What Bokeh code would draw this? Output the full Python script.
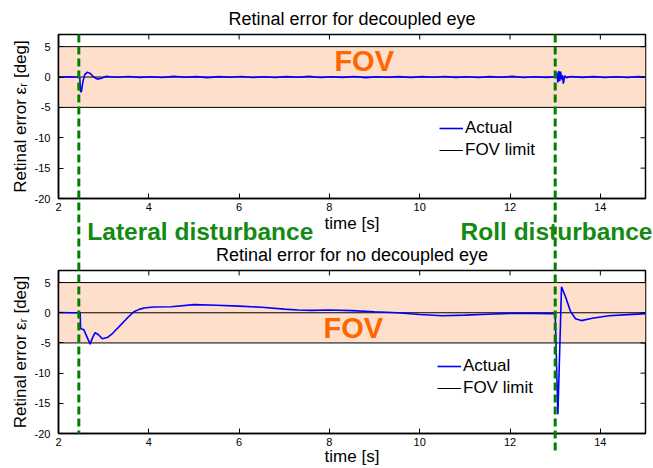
from bokeh.plotting import figure
from bokeh.models import (Range1d, FixedTicker, BoxAnnotation, Label,
                          Legend, LegendItem)
from bokeh.core.properties import value
from bokeh.layouts import column
from bokeh.embed import file_html
from bokeh.resources import INLINE

# ---------------- data ----------------
t_range = [2, 15]
err_range = [-20, 7]
x_ticks = [2, 4, 6, 8, 10, 12, 14]
x_tick_labels = ["2", "4", "6", "8", "10", "12", "14"]
y_ticks = [-20, -15, -10, -5, 0, 5]
y_tick_labels = ["-20", "-15", "-10", "-5", "0", "5"]
fov_limit = [-5, 5]
disturbance_times = [2.45, 13.0]
disturbance_labels = ["Lateral disturbance", "Roll disturbance"]
panel_titles = ["Retinal error for decoupled eye", "Retinal error for no decoupled eye"]
x_label = "time [s]"
y_label = "Retinal error \u03b5\u1d63 [deg]"
legend_labels = ["Actual", "FOV limit"]
fov_text = "FOV"

# decoupled eye
dec_t = [2.0, 2.25, 2.45, 2.47, 2.49, 2.51, 2.54, 2.58, 2.64, 2.70,
         2.78, 2.86, 2.95, 3.05, 3.15, 3.3,
         3.55, 3.8, 4.05, 4.3, 4.55, 4.8, 5.05, 5.3, 5.55, 5.8,
         6.05, 6.3, 6.55, 6.8, 7.05, 7.3, 7.55, 7.8, 8.05, 8.3,
         8.55, 8.8, 9.05, 9.3, 9.55, 9.8, 10.05, 10.3, 10.55, 10.8,
         11.05, 11.3, 11.55, 11.8, 12.05, 12.3, 12.55, 12.8, 12.98,
         13.03, 13.06, 13.08, 13.10, 13.12, 13.14, 13.16, 13.18, 13.21, 13.25,
         13.35, 13.6, 13.85, 14.1, 14.35, 14.6, 14.85, 15.0]
dec_err = [0.0, 0.05, -0.05, 0.0, -2.5, -2.3, -0.8, 0.4, 0.8, 0.6,
           0.0, -0.35, -0.2, 0.1, 0.05, -0.05,
           0.08, -0.06, 0.05, -0.08, 0.1, -0.05, 0.07, -0.1, 0.06, -0.04,
           0.09, -0.07, 0.05, -0.09, 0.06, -0.05, 0.1, -0.08, 0.04, -0.06,
           0.08, -0.1, 0.05, -0.04, 0.07, -0.09, 0.06, -0.05, 0.09, -0.06,
           0.05, -0.08, 0.07, -0.05, 0.1, -0.07, 0.05, -0.06, 0.03,
           0.8, -0.9, 1.0, -0.7, 0.9, -0.4, 0.3, -1.1, 0.2, -0.1,
           0.08, -0.06, 0.07, -0.08, 0.05, -0.07, 0.06, -0.03]

# no decoupled eye
nodec_t = [2.0, 2.3, 2.48, 2.49, 2.52, 2.56, 2.63, 2.70, 2.75, 2.81,
           2.88, 2.97, 3.08, 3.2, 3.38, 3.52, 3.67, 3.8, 3.9, 4.1,
           4.5, 5.0, 5.5, 6.0, 6.5, 7.0, 7.3, 7.6, 8.0, 8.5,
           9.0, 9.5, 10.0, 10.5, 11.0, 11.5, 12.0, 12.5, 12.95, 13.0,
           13.06, 13.14, 13.23, 13.34, 13.45, 13.58, 13.82, 14.19, 14.71, 15.0]
nodec_err = [0.05, 0.0, 0.0, -2.6, -2.7, -2.8, -4.0, -5.2, -4.2, -3.3,
             -3.6, -4.3, -4.1, -3.4, -2.0, -0.9, 0.16, 0.6, 0.8, 0.95,
             1.0, 1.35, 1.25, 1.1, 0.9, 0.6, 0.45, 0.4, 0.45, 0.35,
             0.16, 0.0, -0.28, -0.5, -0.4, -0.25, -0.1, -0.1, -0.15, -0.2,
             -16.8, 4.3, 2.6, 0.2, -1.0, -1.3, -0.9, -0.5, -0.27, -0.15]

# ---------------- style / layout ----------------
FONT = "Liberation Sans"
W = 653
TOTAL_H = 468
LEFT = 58
RIGHT = 8
FRAME_H = 164
FRAME_W = W - LEFT - RIGHT
TOP1, BOT1 = 34, 38        # borders of upper panel
TOP2, BOT2 = 33, 35        # borders of lower panel
GREEN_LINE = "#008000"
GREEN_TEXT = "#138a13"
ORANGE = "#FF6600"
PEACH = "#FDDFCB"
BLUE = "#0000FF"
PPU = FRAME_H / (err_range[1] - err_range[0])   # pixels per y unit
PPX = FRAME_W / (t_range[1] - t_range[0])       # pixels per x unit
TICK = 5


def style_axis(ax, ticks, labels):
    ax.ticker = FixedTicker(ticks=ticks)
    ax.major_label_overrides = dict(zip(ticks, labels))
    ax.axis_line_color = "black"
    ax.axis_line_width = 1.5
    ax.major_tick_in = TICK
    ax.major_tick_out = 0
    ax.minor_tick_in = 0
    ax.minor_tick_out = 0
    ax.major_tick_line_color = "black"
    ax.major_label_text_font = FONT
    ax.major_label_text_font_size = "11px"
    ax.major_label_text_color = "black"
    ax.axis_label_text_font = FONT
    ax.axis_label_text_font_size = "17px"
    ax.axis_label_text_font_style = "normal"
    ax.axis_label_text_color = "black"


def make_panel(idx, t, err, top_b, bot_b, legend_loc, fov_pos, xlab_standoff):
    height = top_b + FRAME_H + bot_b
    p = figure(width=W, height=height,
               x_range=Range1d(*t_range), y_range=Range1d(*err_range),
               output_backend="svg", toolbar_location=None,
               min_border_left=LEFT, min_border_right=RIGHT,
               min_border_top=top_b, min_border_bottom=bot_b,
               background_fill_color="white", border_fill_color="white",
               title=panel_titles[idx])
    p.title.text_font = FONT
    p.title.text_font_size = "18px"
    p.title.text_font_style = "normal"
    p.title.text_color = "black"
    p.title.text_line_height = 1.0
    p.title.align = "center"
    p.title.standoff = 12
    p.grid.visible = False
    p.outline_line_color = "black"
    p.outline_line_width = 1.5

    xa = p.below[0]
    ya = p.left[0]
    style_axis(xa, x_ticks, x_tick_labels)
    style_axis(ya, y_ticks, y_tick_labels)
    xa.major_label_standoff = 4
    xa.axis_label_standoff = xlab_standoff
    xa.axis_label = x_label
    ya.major_label_standoff = 8
    ya.axis_label_standoff = 2
    ya.axis_label = y_label

    # FOV band
    p.add_layout(BoxAnnotation(bottom=fov_limit[0], top=fov_limit[1],
                               fill_color=PEACH, fill_alpha=1.0,
                               line_color=None, level="underlay"))
    r_lim = p.multi_line(xs=[t_range, t_range],
                         ys=[[fov_limit[0]] * 2, [fov_limit[1]] * 2],
                         line_color="black", line_width=1)
    mid = (fov_limit[0] + fov_limit[1]) / 2
    p.line(x=t_range, y=[mid, mid], line_color="black", line_width=1)
    r_act = p.line(x=t, y=err, line_color=BLUE, line_width=1.6)

    # mirrored ticks on the top and right edges of the box
    p.segment(x0=x_ticks, x1=x_ticks,
              y0=[err_range[1]] * len(x_ticks),
              y1=[err_range[1] - TICK / PPU] * len(x_ticks),
              line_color="black", line_width=1)
    p.segment(x0=[t_range[1]] * len(y_ticks),
              x1=[t_range[1] - TICK / PPX] * len(y_ticks),
              y0=y_ticks, y1=y_ticks, line_color="black", line_width=1)

    legend = Legend(items=[LegendItem(label=legend_labels[0], renderers=[r_act]),
                           LegendItem(label=legend_labels[1], renderers=[r_lim])],
                    location=legend_loc,
                    label_text_font=FONT, label_text_font_size="17px",
                    label_text_color="black",
                    glyph_width=24, glyph_height=20, label_height=20,
                    label_standoff=2, spacing=2, padding=0, margin=0,
                    border_line_color=None, background_fill_alpha=0)
    p.add_layout(legend)

    p.add_layout(Label(x=fov_pos[0], y=fov_pos[1], text=fov_text, text_font=FONT,
                       text_font_size="29px", text_font_style="bold",
                       text_color=ORANGE, text_align="left",
                       text_baseline="middle"))
    return p


p_top = make_panel(0, dec_t, dec_err, TOP1, BOT1, (381, 38), (8.11, 2.63), 0)
p_bot = make_panel(1, nodec_t, nodec_err, TOP2, BOT2, (379, 35), (7.87, -2.55), -2)
panels = column(p_top, p_bot, spacing=0)

# ---------- transparent overlay spanning both panels (separate root) ----------
# y of the overlay = pixels down from the top of the page
ov = figure(width=W, height=TOTAL_H,
            x_range=Range1d(t_range[0], t_range[1] + RIGHT / PPX),
            y_range=Range1d(TOTAL_H, 0),
            output_backend="svg", toolbar_location=None,
            min_border_left=LEFT, min_border_right=0,
            min_border_top=0, min_border_bottom=0,
            background_fill_alpha=0, border_fill_alpha=0,
            outline_line_color=None,
            styles={"position": "absolute", "top": "0px", "left": "0px"})
ov.axis.visible = False
ov.grid.visible = False

frame1_top = TOP1
frame2_top = TOP1 + FRAME_H + BOT1 + TOP2
frame2_bot = frame2_top + FRAME_H
roll_ext = 19
ov.segment(x0=disturbance_times, x1=disturbance_times,
           y0=[frame1_top, frame1_top],
           y1=[frame2_bot, frame2_bot + roll_ext],
           line_color=GREEN_LINE, line_width=3, line_dash="8 4")

gap_mid = frame1_top + FRAME_H + 32.5
ov.text(x=[disturbance_times[0] + 8.5 / PPX, t_range[1] + 7 / PPX],
        y=[gap_mid, gap_mid],
        text=disturbance_labels,
        text_font=value(FONT), text_font_size="24.5px", text_font_style="bold",
        text_color=GREEN_TEXT, text_align=["left", "right"],
        text_baseline="middle")

p = [panels, ov]
open("out.html", "w").write(file_html(p, INLINE))
